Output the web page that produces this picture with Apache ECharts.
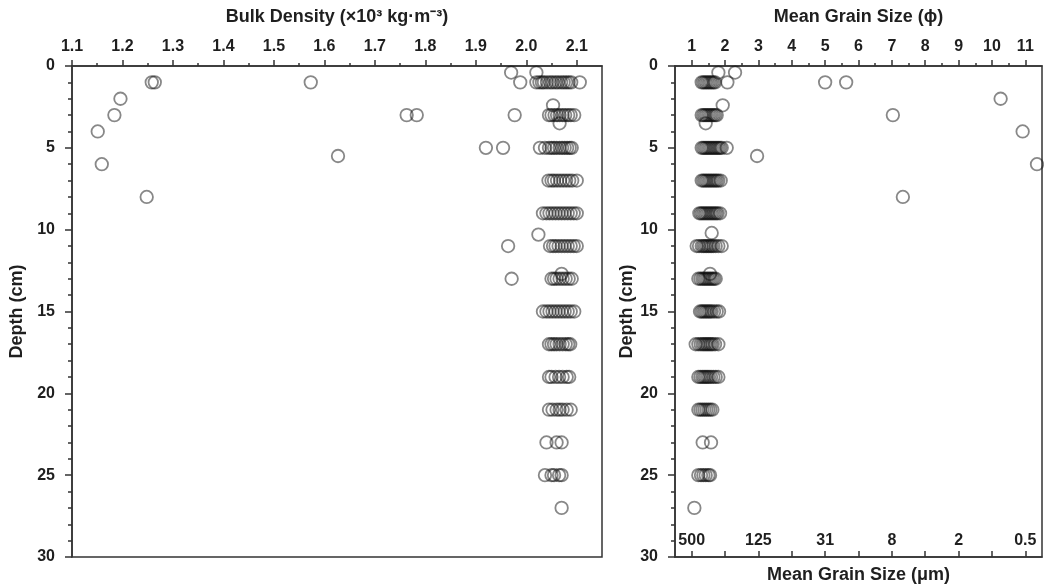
<!DOCTYPE html>
<html>
<head>
<meta charset="utf-8">
<title>Bulk density and mean grain size profiles</title>
<script src="https://cdn.jsdelivr.net/npm/echarts@6/dist/echarts.min.js"></script>
<style>
  html, body { margin: 0; padding: 0; background: #ffffff; }
  #chart { width: 1044px; height: 585px; }
</style>
</head>
<body>
<div id="chart"></div>
<script>
// Sampling depths (cm) for the bulk density profile, with the values measured at each depth (×10³ kg·m⁻³)
const densityDepths = [0.4, 1, 2, 2.4, 3, 3.5, 4, 5, 5.5, 6, 7, 8, 9, 10.3, 11, 12.7, 13, 15, 17, 19, 21, 23, 25, 27];
const densityValues = [
  [1.97, 2.02],
  [1.258, 1.264, 1.573, 1.988, 2.02, 2.026, 2.031, 2.035, 2.041, 2.047, 2.052, 2.058, 2.063, 2.069, 2.074, 2.079, 2.084, 2.089, 2.106],
  [1.196],
  [2.053],
  [1.184, 1.763, 1.783, 1.977, 2.045, 2.05, 2.056, 2.061, 2.066, 2.072, 2.077, 2.083, 2.088, 2.095],
  [2.066],
  [1.151],
  [1.92, 1.954, 2.027, 2.037, 2.045, 2.05, 2.055, 2.06, 2.066, 2.071, 2.076, 2.081, 2.086, 2.09],
  [1.627],
  [1.159],
  [2.044, 2.05, 2.055, 2.061, 2.067, 2.073, 2.079, 2.085, 2.091, 2.1],
  [1.248],
  [2.033, 2.04, 2.046, 2.052, 2.058, 2.064, 2.07, 2.076, 2.082, 2.088, 2.094, 2.1],
  [2.024],
  [1.964, 2.047, 2.053, 2.058, 2.064, 2.07, 2.076, 2.082, 2.088, 2.094, 2.1],
  [2.07],
  [1.971, 2.05, 2.055, 2.06, 2.066, 2.072, 2.078, 2.084, 2.09],
  [2.033, 2.04, 2.046, 2.052, 2.058, 2.064, 2.07, 2.076, 2.082, 2.088, 2.095],
  [2.045, 2.05, 2.055, 2.06, 2.066, 2.072, 2.078, 2.083, 2.087],
  [2.045, 2.05, 2.058, 2.065, 2.072, 2.08, 2.085],
  [2.045, 2.052, 2.06, 2.066, 2.072, 2.08, 2.088],
  [2.04, 2.06, 2.07],
  [2.037, 2.05, 2.055, 2.065, 2.07],
  [2.07]
];

// Sampling depths (cm) for the grain size profile, with mean grain size (phi) at each depth
const grainDepths = [0.4, 1, 2, 2.4, 3, 3.5, 4, 5, 5.5, 6, 7, 8, 9, 10.2, 11, 12.7, 13, 15, 17, 19, 21, 23, 25, 27];
const grainPhi = [
  [1.80, 2.30],
  [1.3, 1.35, 1.4, 1.45, 1.5, 1.55, 1.6, 1.65, 1.7, 2.07, 5.0, 5.63],
  [10.26],
  [1.93],
  [1.3, 1.35, 1.4, 1.45, 1.5, 1.55, 1.6, 1.65, 1.7, 1.75, 7.03],
  [1.42],
  [10.92],
  [1.3, 1.35, 1.4, 1.45, 1.5, 1.55, 1.6, 1.65, 1.7, 1.75, 1.8, 1.85, 1.9, 2.05],
  [2.96],
  [11.35],
  [1.3, 1.35, 1.4, 1.45, 1.5, 1.55, 1.6, 1.65, 1.7, 1.75, 1.8, 1.87],
  [7.33],
  [1.23, 1.28, 1.33, 1.38, 1.43, 1.48, 1.53, 1.58, 1.63, 1.68, 1.73, 1.78, 1.85],
  [1.6],
  [1.15, 1.22, 1.3, 1.35, 1.4, 1.45, 1.5, 1.55, 1.6, 1.65, 1.72, 1.8, 1.9],
  [1.55],
  [1.2, 1.26, 1.32, 1.37, 1.42, 1.47, 1.52, 1.57, 1.62, 1.67, 1.72],
  [1.25, 1.3, 1.35, 1.4, 1.45, 1.5, 1.55, 1.6, 1.67, 1.75, 1.82],
  [1.12, 1.2, 1.27, 1.33, 1.38, 1.43, 1.48, 1.53, 1.58, 1.63, 1.7, 1.8],
  [1.2, 1.26, 1.32, 1.37, 1.42, 1.47, 1.52, 1.58, 1.65, 1.72, 1.8],
  [1.2, 1.26, 1.32, 1.38, 1.44, 1.5, 1.56, 1.62],
  [1.33, 1.58],
  [1.2, 1.28, 1.35, 1.42, 1.5, 1.55],
  [1.08]
];

// Tick positions and labels
const densityMajorTicks = [1.1, 1.2, 1.3, 1.4, 1.5, 1.6, 1.7, 1.8, 1.9, 2.0, 2.1];
const densityMinorTicks = [1.15, 1.25, 1.35, 1.45, 1.55, 1.65, 1.75, 1.85, 1.95, 2.05];
const phiMajorTicks = [1, 2, 3, 4, 5, 6, 7, 8, 9, 10, 11];
const phiMinorTicks = [1.5, 2.5, 3.5, 4.5, 5.5, 6.5, 7.5, 8.5, 9.5, 10.5];
const micronTickPhi = [1, 3, 5, 7, 9, 11];
const micronTickLabels = ['500', '125', '31', '8', '2', '0.5'];

function toPoints(depths, rows) {
  const pts = [];
  depths.forEach((d, i) => rows[i].forEach(v => pts.push([v, d])));
  return pts;
}

const TEXT = '#1f1f1f';
const LINE = '#333333';
const FONT = '"Liberation Sans", Arial, sans-serif';
const labelStyle = { color: TEXT, fontFamily: FONT, fontWeight: 'bold', fontSize: 16 };
const nameStyle = { color: TEXT, fontFamily: FONT, fontWeight: 'bold', fontSize: 18 };
const lineStyle = { color: LINE, width: 1.5 };

function topAxis(gridIndex, min, max, major, minor, name, fmt) {
  return [
    {
      gridIndex, type: 'value', position: 'top', min, max,
      name, nameLocation: 'middle', nameGap: 40, nameTextStyle: nameStyle,
      axisLine: { show: true, lineStyle },
      axisTick: { show: true, inside: false, length: 6, customValues: major, lineStyle },
      axisLabel: { show: true, customValues: major, margin: 11, formatter: fmt, ...labelStyle },
      splitLine: { show: false }
    },
    {
      gridIndex, type: 'value', position: 'top', min, max,
      axisLine: { show: false },
      axisTick: { show: true, inside: false, length: 3, customValues: minor, lineStyle },
      axisLabel: { show: false },
      splitLine: { show: false }
    }
  ];
}

function depthAxis(gridIndex, nameGap) {
  return {
    gridIndex, type: 'value', inverse: true, min: 0, max: 30, interval: 5,
    name: 'Depth (cm)', nameLocation: 'middle', nameGap, nameTextStyle: nameStyle,
    axisLine: { show: true, lineStyle },
    axisTick: { show: true, inside: false, length: 7, lineStyle },
    minorTick: { show: true, splitNumber: 5, length: 4, lineStyle },
    axisLabel: { margin: 17, ...labelStyle },
    splitLine: { show: false },
    minorSplitLine: { show: false }
  };
}

const chart = echarts.init(document.getElementById('chart'), null, { renderer: 'canvas' });

// Hollow circles with a translucent outline, so overlapping samples build up to dark bands
const symbolStyle = {
  color: 'rgba(0,0,0,0)',
  borderColor: 'rgba(15,15,15,0.62)',
  borderWidth: 1.8
};

const gridBase = {
  top: 66, height: 491, show: true, borderColor: LINE, borderWidth: 1.5,
  backgroundColor: 'transparent', containLabel: false, outerBoundsMode: 'none'
};

chart.setOption({
  animation: false,
  backgroundColor: '#ffffff',
  grid: [
    { ...gridBase, left: 72, width: 530 },
    { ...gridBase, left: 675, width: 367 }
  ],
  xAxis: [
    ...topAxis(0, 1.1, 2.15, densityMajorTicks, densityMinorTicks,
      'Bulk Density (×10³ kg·m⁻³)', v => v.toFixed(1)),
    ...topAxis(1, 0.5, 11.5, phiMajorTicks, phiMinorTicks,
      'Mean Grain Size (ϕ)', v => String(Math.round(v))),
    {
      gridIndex: 1, type: 'value', position: 'bottom', min: 0.5, max: 11.5,
      name: 'Mean Grain Size (μm)', nameLocation: 'middle', nameGap: 9, nameTextStyle: nameStyle,
      axisLine: { show: true, lineStyle },
      axisTick: { show: true, inside: true, length: 6, customValues: phiMajorTicks, lineStyle },
      axisLabel: {
        show: true, inside: true, margin: 8, customValues: micronTickPhi,
        formatter: v => micronTickLabels[micronTickPhi.indexOf(Math.round(v))] || '',
        ...labelStyle
      },
      splitLine: { show: false }
    }
  ],
  yAxis: [depthAxis(0, 45), depthAxis(1, 34)],
  series: [
    {
      type: 'scatter', xAxisIndex: 0, yAxisIndex: 0,
      symbol: 'circle', symbolSize: 12.5, itemStyle: symbolStyle,
      data: toPoints(densityDepths, densityValues)
    },
    {
      type: 'scatter', xAxisIndex: 2, yAxisIndex: 1,
      symbol: 'circle', symbolSize: 12.5, itemStyle: symbolStyle,
      data: toPoints(grainDepths, grainPhi)
    }
  ]
});
</script>
</body>
</html>
